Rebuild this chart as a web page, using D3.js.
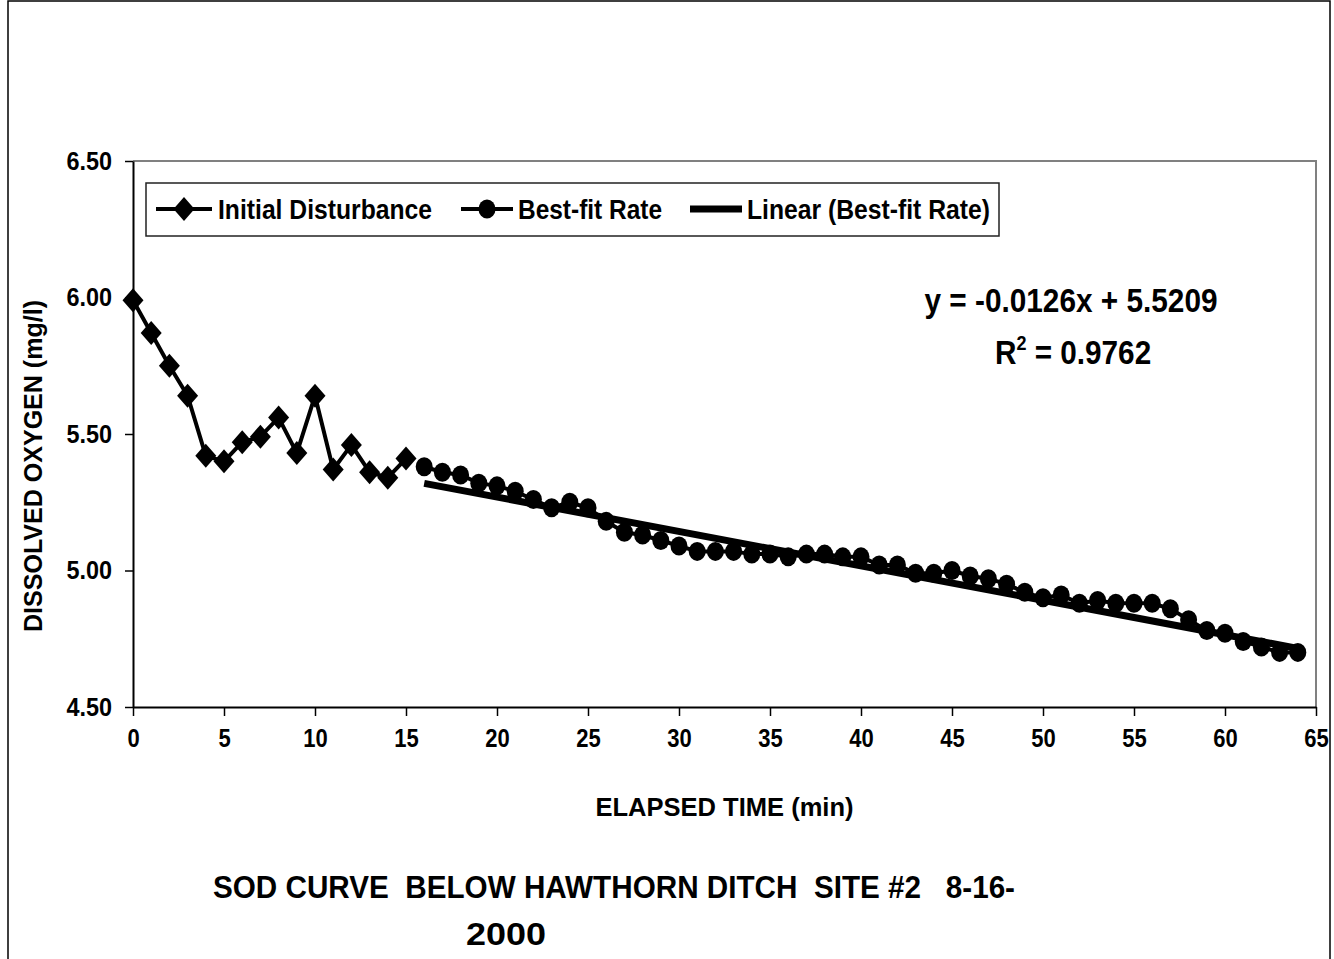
<!DOCTYPE html>
<html>
<head>
<meta charset="utf-8">
<script src="https://cdn.jsdelivr.net/npm/d3@7"></script>
<style>
  html, body { margin: 0; padding: 0; background: #fff; }
  svg { display: block; }
  text { font-family: "Liberation Sans", Arial, sans-serif; font-weight: bold; fill: #000; }
</style>
</head>
<body>
<svg id="chart" width="1334" height="959"></svg>
<script>
// ---- data ----
const initialTimes = d3.range(0, 16);
const initialValues = [5.99, 5.87, 5.75, 5.64, 5.42, 5.40, 5.47, 5.49, 5.56, 5.43, 5.64, 5.37, 5.46, 5.36, 5.34, 5.41];

const bestFitTimes = d3.range(16, 65);
const bestFitValues = [
  5.38, 5.36, 5.35, 5.32, 5.31, 5.29, 5.26, 5.23, 5.25, 5.23,
  5.18, 5.14, 5.13, 5.11, 5.09, 5.07, 5.07, 5.07, 5.06, 5.06,
  5.05, 5.06, 5.06, 5.05, 5.05, 5.02, 5.02, 4.99, 4.99, 5.00,
  4.98, 4.97, 4.95, 4.92, 4.90, 4.91, 4.88, 4.89, 4.88, 4.88,
  4.88, 4.86, 4.82, 4.78, 4.77, 4.74, 4.72, 4.70, 4.70
];

const trendSlope = -0.0126;
const trendIntercept = 5.5209;
const trendRange = [16, 64];

const xTickValues = d3.range(0, 66, 5);
const yTickValues = [4.5, 5.0, 5.5, 6.0, 6.5];

const legendLabels = ["Initial Disturbance", "Best-fit Rate", "Linear (Best-fit Rate)"];
const equationText = "y = -0.0126x + 5.5209";
const r2Text = " = 0.9762";
const titleLines = ["SOD CURVE  BELOW HAWTHORN DITCH  SITE #2   8-16-", "2000"];
const xAxisTitle = "ELAPSED TIME (min)";
const yAxisTitle = "DISSOLVED OXYGEN (mg/l)";

// ---- layout ----
const svg = d3.select("#chart");
const plot = { left: 133, right: 1316, top: 161, bottom: 707 };

const x = d3.scaleLinear().domain([0, 65]).range([plot.left, plot.right]);
const y = d3.scaleLinear().domain([4.5, 6.5]).range([plot.bottom, plot.top]);

function condense(sel, k) {
  sel.each(function () {
    const w = this.getComputedTextLength();
    d3.select(this).attr("textLength", w * k).attr("lengthAdjust", "spacingAndGlyphs");
  });
}

// outer chart border
svg.append("rect").attr("x", 8).attr("y", 1).attr("width", 1322).attr("height", 980)
  .attr("fill", "none").attr("stroke", "#000").attr("stroke-width", 1.5);

// plot area border (top/right gray)
svg.append("path")
  .attr("d", `M${plot.left},${plot.top}H${plot.right}V${plot.bottom}`)
  .attr("fill", "none").attr("stroke", "#808080").attr("stroke-width", 2);

// axes
const xAxis = d3.axisBottom(x).tickValues(xTickValues).tickSize(9).tickSizeOuter(0).tickPadding(13);
const gx = svg.append("g").attr("transform", `translate(0,${plot.bottom})`).call(xAxis);
gx.select(".domain").attr("stroke", "#000").attr("stroke-width", 2);
gx.selectAll(".tick line").attr("stroke", "#000").attr("stroke-width", 1.5);
gx.selectAll(".tick text").style("font-size", "25px").style("font-family", "Liberation Sans, Arial, sans-serif").style("font-weight", "bold");
condense(gx.selectAll(".tick text"), 0.88);

const yAxis = d3.axisLeft(y).tickValues(yTickValues).tickFormat(d3.format(".2f")).tickSize(8).tickSizeOuter(0).tickPadding(13);
const gy = svg.append("g").attr("transform", `translate(${plot.left},0)`).call(yAxis);
gy.select(".domain").attr("stroke", "#000").attr("stroke-width", 2);
gy.selectAll(".tick line").attr("stroke", "#000").attr("stroke-width", 1.5);
gy.selectAll(".tick text").style("font-size", "26px").style("font-family", "Liberation Sans, Arial, sans-serif").style("font-weight", "bold");
condense(gy.selectAll(".tick text"), 0.9);

// axis titles
svg.append("text").attr("x", (plot.left + plot.right) / 2).attr("y", 816)
  .attr("text-anchor", "middle").style("font-size", "26px")
  .attr("textLength", 258).attr("lengthAdjust", "spacingAndGlyphs").text(xAxisTitle);

svg.append("text").attr("transform", `translate(42,${(plot.top + plot.bottom) / 2 + 32}) rotate(-90)`)
  .attr("text-anchor", "middle").style("font-size", "25px")
  .attr("textLength", 332).attr("lengthAdjust", "spacingAndGlyphs").text(yAxisTitle);

// markers
const diamondPath = "M0,-12L10.5,0L0,12L-10.5,0Z";

const initialData = initialTimes.map((t, i) => ({ t, v: initialValues[i] }));
const bestData = bestFitTimes.map((t, i) => ({ t, v: bestFitValues[i] }));
const line = d3.line().x(d => x(d.t)).y(d => y(d.v));

// initial disturbance series
svg.append("path").datum(initialData).attr("d", line)
  .attr("fill", "none").attr("stroke", "#000").attr("stroke-width", 4).attr("stroke-linejoin", "round");
svg.append("g").selectAll("path").data(initialData).join("path")
  .attr("d", diamondPath).attr("transform", d => `translate(${x(d.t)},${y(d.v)})`).attr("fill", "#000");

// best-fit series
svg.append("path").datum(bestData).attr("d", line)
  .attr("fill", "none").attr("stroke", "#000").attr("stroke-width", 4);
svg.append("g").selectAll("ellipse").data(bestData).join("ellipse")
  .attr("cx", d => x(d.t)).attr("cy", d => y(d.v)).attr("rx", 8.5).attr("ry", 9.5).attr("fill", "#000");

// trendline
const trendData = trendRange.map(t => ({ t, v: trendSlope * t + trendIntercept }));
svg.append("path").datum(trendData).attr("d", line)
  .attr("fill", "none").attr("stroke", "#000").attr("stroke-width", 7);

// equation
svg.append("text").attr("x", 1071).attr("y", 312).attr("text-anchor", "middle")
  .style("font-size", "33px").attr("textLength", 293).attr("lengthAdjust", "spacingAndGlyphs").text(equationText);
const r2 = svg.append("text").attr("x", 995).attr("y", 364).style("font-size", "33px");
r2.append("tspan").text("R");
r2.append("tspan").attr("dy", -14).style("font-size", "20px").text("2");
r2.append("tspan").attr("dy", 14).text(r2Text);
condense(r2, 0.9);

// legend
const lg = svg.append("g");
lg.append("rect").attr("x", 146).attr("y", 183).attr("width", 853).attr("height", 53)
  .attr("fill", "#fff").attr("stroke", "#222").attr("stroke-width", 1.5);
const legendY = 209;
const legendItems = [
  { x0: 156, x1: 212, text: 218, w: 214, type: "diamond" },
  { x0: 461, x1: 513, text: 518, w: 144, type: "circle" },
  { x0: 690, x1: 742, text: 747, w: 243, type: "trend" }
];
legendItems.forEach((it, i) => {
  lg.append("line").attr("x1", it.x0).attr("x2", it.x1).attr("y1", legendY).attr("y2", legendY)
    .attr("stroke", "#000").attr("stroke-width", it.type === "trend" ? 7 : 4);
  const cx = (it.x0 + it.x1) / 2;
  if (it.type === "diamond") lg.append("path").attr("d", diamondPath).attr("transform", `translate(${cx},${legendY})`);
  if (it.type === "circle") lg.append("ellipse").attr("cx", cx).attr("cy", legendY).attr("rx", 8.5).attr("ry", 9.5);
  lg.append("text").attr("x", it.text).attr("y", legendY + 10).style("font-size", "27px")
    .attr("textLength", it.w).attr("lengthAdjust", "spacingAndGlyphs").text(legendLabels[i]);
});

// title
svg.append("text").attr("x", 213).attr("y", 898).style("font-size", "32px").style("white-space", "pre")
  .attr("textLength", 802).attr("lengthAdjust", "spacingAndGlyphs").text(titleLines[0]);
svg.append("text").attr("x", 506).attr("y", 945).attr("text-anchor", "middle").style("font-size", "32px")
  .attr("textLength", 80).attr("lengthAdjust", "spacingAndGlyphs").text(titleLines[1]);
</script>
</body>
</html>
